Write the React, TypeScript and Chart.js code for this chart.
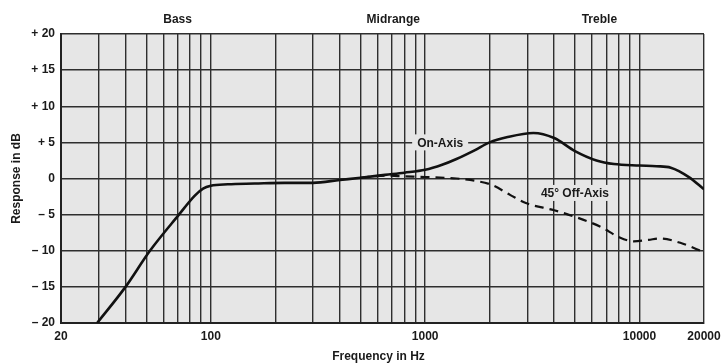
import React, { useEffect, useRef } from "react";
import { Chart, registerables } from "chart.js";

Chart.register(...registerables);

const onAxisFreq = [29.5, 40, 52, 71, 84, 92, 100, 120, 160, 220, 300, 400, 500, 650, 800, 1000, 1200, 1400, 1700, 2000, 2400, 3200, 4000, 5000, 6300, 7600, 10000, 12000, 14000, 17000, 20000];
const onAxisDb = [-20, -15, -10, -5, -2.4, -1.4, -1.0, -0.8, -0.7, -0.6, -0.6, -0.2, 0.1, 0.5, 0.8, 1.2, 1.9, 2.7, 3.9, 5.0, 5.7, 6.3, 5.6, 3.8, 2.5, 2.0, 1.8, 1.7, 1.5, 0.2, -1.5];

const offAxisFreq = [500, 650, 800, 1000, 1400, 1700, 2050, 2500, 2950, 4000, 5000, 6600, 8000, 9400, 11000, 12500, 15500, 20000];
const offAxisDb = [0.1, 0.4, 0.3, 0.2, 0.0, -0.3, -0.9, -2.3, -3.4, -4.4, -5.3, -6.7, -8.1, -8.7, -8.5, -8.3, -8.9, -10.2];

const gridFreqs = [20, 30, 40, 50, 60, 70, 80, 90, 100, 200, 300, 400, 500, 600, 700, 800, 900, 1000, 2000, 3000, 4000, 5000, 6000, 7000, 8000, 9000, 10000, 20000];
const xLabelFreqs = [20, 100, 1000, 10000, 20000];
const yTicks = [20, 15, 10, 5, 0, -5, -10, -15, -20];

const bandLabels = ["Bass", "Midrange", "Treble"];
const bandFreqs = [70, 710, 6500];

const seriesLabels = ["On-Axis", "45° Off-Axis"];
const seriesLabelFreqs = [1175, 5000];
const seriesLabelDb = [5, -2];

const yLabel = (v: number) => (v > 0 ? "+ " + v : v < 0 ? "– " + -v : "0");

const FONT = "'Liberation Sans', Arial, sans-serif";
const PLOT_BG = "#e6e6e6";

const textPlugin = {
  id: "textPlugin",
  beforeDraw(chart: any) {
    const { ctx, chartArea } = chart;
    ctx.save();
    ctx.fillStyle = "#ffffff";
    ctx.fillRect(0, 0, chart.width, chart.height);
    ctx.fillStyle = PLOT_BG;
    ctx.fillRect(chartArea.left, chartArea.top, chartArea.right - chartArea.left, chartArea.bottom - chartArea.top);
    ctx.restore();
  },
  afterDatasetsDraw(chart: any) {
    const { ctx } = chart;
    const xs = chart.scales.x;
    const ys = chart.scales.y;
    ctx.save();
    ctx.font = `bold 12px ${FONT}`;
    ctx.textBaseline = "middle";
    ctx.textAlign = "center";
    seriesLabels.forEach((t, i) => {
      const x = xs.getPixelForValue(seriesLabelFreqs[i]);
      const y = ys.getPixelForValue(seriesLabelDb[i]);
      const w = ctx.measureText(t).width;
      ctx.fillStyle = PLOT_BG;
      ctx.fillRect(x - w / 2 - 5, y - 8, w + 10, 16);
      ctx.fillStyle = "#1a1a1a";
      ctx.fillText(t, x, y + 1);
    });
    ctx.restore();
  },
  afterDraw(chart: any) {
    const { ctx, chartArea } = chart;
    const xs = chart.scales.x;
    const ys = chart.scales.y;
    ctx.save();
    ctx.fillStyle = "#1a1a1a";
    ctx.font = `bold 12px ${FONT}`;
    ctx.textBaseline = "middle";
    ctx.textAlign = "right";
    yTicks.forEach((v) => {
      ctx.fillText(yLabel(v), chartArea.left - 6, ys.getPixelForValue(v));
    });
    ctx.textAlign = "center";
    xLabelFreqs.forEach((f) => {
      ctx.fillText(String(f), xs.getPixelForValue(f), chartArea.bottom + 14);
    });
    bandLabels.forEach((t, i) => {
      ctx.fillText(t, xs.getPixelForValue(bandFreqs[i]), chartArea.top - 14);
    });
    ctx.fillText("Frequency in Hz", (chartArea.left + chartArea.right) / 2 - 4, chartArea.bottom + 34);
    ctx.translate(17, (chartArea.top + chartArea.bottom) / 2);
    ctx.rotate(-Math.PI / 2);
    ctx.fillText("Response in dB", 0, 0);
    ctx.restore();
  },
};

export default function App() {
  const ref = useRef<HTMLCanvasElement>(null);
  useEffect(() => {
    if (!ref.current) return;
    const chart = new Chart(ref.current, {
      type: "line",
      data: {
        datasets: [
          {
            label: seriesLabels[0],
            data: onAxisFreq.map((f, i) => ({ x: f, y: onAxisDb[i] })),
            borderColor: "#111111",
            borderWidth: 2.6,
            pointRadius: 0,
            cubicInterpolationMode: "monotone",
            fill: false,
          },
          {
            label: seriesLabels[1],
            data: offAxisFreq.map((f, i) => ({ x: f, y: offAxisDb[i] })),
            borderColor: "#111111",
            borderWidth: 2.2,
            borderDash: [9, 6],
            pointRadius: 0,
            cubicInterpolationMode: "monotone",
            fill: false,
          },
        ],
      },
      options: {
        animation: false,
        responsive: false,
        devicePixelRatio: 1,
        layout: { padding: { left: 61, top: 34, right: 19, bottom: 40 } },
        plugins: { legend: { display: false }, tooltip: { enabled: false } },
        scales: {
          x: {
            type: "logarithmic",
            min: 20,
            max: 20000,
            afterBuildTicks: (scale: any) => {
              scale.ticks = gridFreqs.map((v) => ({ value: v }));
            },
            ticks: { display: false },
            grid: { color: "#2e2e2e", lineWidth: 1.4, drawTicks: false },
            border: { display: true, color: "#222222", width: 2 },
          },
          y: {
            min: -20,
            max: 20,
            afterBuildTicks: (scale: any) => {
              scale.ticks = yTicks.map((v) => ({ value: v }));
            },
            ticks: { display: false },
            grid: { color: "#2e2e2e", lineWidth: 1.4, drawTicks: false },
            border: { display: true, color: "#222222", width: 2 },
          },
        },
      },
      plugins: [textPlugin],
    } as any);
    return () => chart.destroy();
  }, []);
  return (
    <div style={{ position: "fixed", left: 0, top: 0, width: 723, height: 363 }}>
      <canvas ref={ref} width={723} height={363} />
    </div>
  );
}
